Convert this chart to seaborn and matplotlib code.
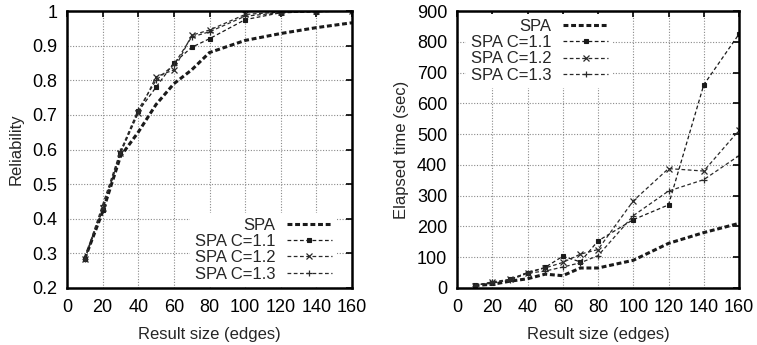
import matplotlib
matplotlib.use("Agg")
import matplotlib.pyplot as plt
import seaborn as sns
import pandas as pd

x_edges = [10, 20, 30, 40, 50, 60, 70, 80, 100, 120, 140, 160]
series_names = ["SPA", "SPA C=1.1", "SPA C=1.2", "SPA C=1.3"]

rel_spa = [0.285, 0.42, 0.58, 0.65, 0.73, 0.79, 0.83, 0.88, 0.915, 0.935, 0.952, 0.966]
rel_c11 = [0.285, 0.425, 0.59, 0.71, 0.78, 0.85, 0.895, 0.92, 0.975, 0.995, 0.998, 1.0]
rel_c12 = [0.285, 0.43, 0.59, 0.705, 0.81, 0.83, 0.93, 0.945, 0.99, 0.997, 0.999, 1.0]
rel_c13 = [0.285, 0.44, 0.595, 0.715, 0.80, 0.845, 0.925, 0.94, 0.985, 0.995, 0.998, 1.0]

time_spa = [8, 12, 22, 30, 45, 40, 65, 65, 90, 145, 180, 210]
time_c11 = [10, 15, 28, 50, 67, 103, 85, 153, 222, 270, 660, 825]
time_c12 = [8, 20, 28, 50, 65, 83, 110, 125, 283, 388, 380, 512]
time_c13 = [8, 18, 25, 48, 55, 68, 82, 105, 235, 315, 352, 430]

x_ticks = [0, 20, 40, 60, 80, 100, 120, 140, 160]
rel_ticks = [0.2, 0.3, 0.4, 0.5, 0.6, 0.7, 0.8, 0.9, 1.0]
rel_ticklabels = ["0.2", "0.3", "0.4", "0.5", "0.6", "0.7", "0.8", "0.9", "1"]
time_ticks = [0, 100, 200, 300, 400, 500, 600, 700, 800, 900]

sns.set_theme(style="white")
plt.rcParams["font.family"] = ["Liberation Sans", "DejaVu Sans"]
plt.rcParams["font.size"] = 10

dk = "#1a1a1a"
styles = {
    "SPA": dict(color=dk, linestyle=(0, (1.6, 0.9)), linewidth=2.2, marker=None),
    "SPA C=1.1": dict(color=dk, linestyle=(0, (3, 2)), linewidth=0.9, marker="s",
                      markersize=3.0, markeredgecolor=dk, markerfacecolor=dk, markeredgewidth=0.8),
    "SPA C=1.2": dict(color="#2a2a2a", linestyle=(0, (3, 2)), linewidth=0.9, marker="x",
                      markersize=3.8, markeredgecolor="#2a2a2a", markeredgewidth=0.9),
    "SPA C=1.3": dict(color="#2a2a2a", linestyle=(0, (3, 2)), linewidth=0.9, marker="+",
                      markersize=4.5, markeredgecolor="#2a2a2a", markeredgewidth=0.9),
}

fig = plt.figure(figsize=(7.57, 3.45), dpi=100)
ax1 = fig.add_axes([67 / 757, 1 - 288 / 345, (352 - 67) / 757, (288 - 11) / 345])
ax2 = fig.add_axes([457 / 757, 1 - 288 / 345, (739 - 457) / 757, (288 - 11) / 345])

def draw(ax, ys, ylim, yticks, yticklabels, ylabel, legend_loc, bbox):
    handles = []
    for name, y in zip(series_names, ys):
        df = pd.DataFrame({"x": x_edges, "y": y})
        st = styles[name]
        sns.lineplot(data=df, x="x", y="y", ax=ax, legend=False, **st)
        handles.append(ax.lines[-1])
    ax.set_xlim(0, 160)
    ax.set_ylim(*ylim)
    ax.set_xticks(x_ticks)
    ax.set_yticks(yticks)
    ax.set_yticklabels(yticklabels)
    ax.grid(True, linestyle=(0, (1, 1.5)), color="#8a8a8a", linewidth=0.8)
    ax.set_axisbelow(True)
    for s in ax.spines.values():
        s.set_linewidth(1.8)
        s.set_color("black")
        s.set_visible(True)
    ax.tick_params(direction="in", length=4, width=1.2, top=True, right=True,
                   labelsize=13, colors="black")
    ax.tick_params(axis="y", pad=7)
    ax.tick_params(axis="x", pad=8)
    ax.set_xlabel("Result size (edges)", fontsize=12, labelpad=8)
    ax.set_ylabel(ylabel, fontsize=12, labelpad=6)
    leg = ax.legend(handles, series_names, loc=legend_loc, bbox_to_anchor=bbox,
                    markerfirst=False, frameon=True, fancybox=False,
                    fontsize=12, handlelength=2.7, handletextpad=0.7,
                    labelspacing=0.08, borderpad=0.3, borderaxespad=0.0)
    fr = leg.get_frame()
    fr.set_facecolor("white")
    fr.set_edgecolor("none")
    fr.set_alpha(1.0)
    return leg

draw(ax1, [rel_spa, rel_c11, rel_c12, rel_c13], (0.2, 1.0), rel_ticks, rel_ticklabels,
     "Reliability", "lower right", (0.947, 0.005))
draw(ax2, [time_spa, time_c11, time_c12, time_c13], (0, 900), time_ticks,
     [str(t) for t in time_ticks], "Elapsed time (sec)", "upper left", (0.032, 0.99))

fig.savefig("out.png", dpi=100)
